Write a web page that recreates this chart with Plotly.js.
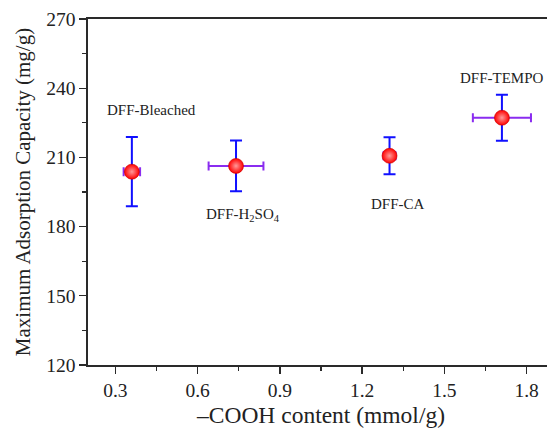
<!DOCTYPE html>
<html>
<head>
<meta charset="utf-8">
<script src="https://cdn.plot.ly/plotly-3.0.1.min.js"></script>
<style>
html, body { margin: 0; padding: 0; overflow: hidden; background: #fff; }
#chart { width: 560px; height: 428px; }
</style>
</head>
<body>
<div id="chart"></div>
<script>
// Data
const samples = ["DFF-Bleached", "DFF-H<sub>2</sub>SO<sub>4</sub>", "DFF-CA", "DFF-TEMPO"];
const cooh = [0.36, 0.74, 1.30, 1.71];          // –COOH content (mmol/g)
const coohErr = [0.03, 0.10, 0.022, 0.106];
const capacity = [203.8, 206.3, 210.7, 227.2];  // mg/g
const capacityErr = [15, 11, 8, 10];
const xTicks = [0.3, 0.6, 0.9, 1.2, 1.5, 1.8];
const yTicks = [120, 150, 180, 210, 240, 270];

// label offsets (pixels) relative to each point
const labelShift = [[20, 62], [7, -49], [8, -48], [0, 40]];

const font = "Liberation Serif";

const trace = {
  x: cooh,
  y: capacity,
  type: "scatter",
  mode: "markers",
  marker: {
    size: 15,
    color: "#ff0000",
    line: { color: "#c80000", width: 0.6 },
    gradient: { type: "radial", color: "#ff9a9a" }
  },
  error_y: { type: "data", array: capacityErr, visible: true, color: "#1010ff", thickness: 2, width: 6 },
  error_x: { type: "data", array: coohErr, visible: true, color: "#8a2cf0", thickness: 2, width: 4.5 },
  hoverinfo: "none"
};

const annotations = samples.map((s, i) => ({
  x: cooh[i], y: capacity[i], xref: "x", yref: "y",
  text: s, showarrow: false,
  xshift: labelShift[i][0], yshift: labelShift[i][1],
  font: { family: font, size: 15, color: "#222" }
}));

const axisCommon = {
  showgrid: false, zeroline: false,
  showline: true, linecolor: "#2a2a2a", linewidth: 1.6, mirror: true,
  ticks: "outside", ticklen: 7, tickwidth: 1.4, tickcolor: "#2a2a2a",
  tickfont: { family: font, size: 19.5, color: "#222" }
};

const layout = {
  width: 560, height: 428,
  margin: { l: 88, r: 6, t: 19, b: 63 },
  paper_bgcolor: "#fff", plot_bgcolor: "#fff",
  font: { family: font, color: "#222" },
  showlegend: false,
  xaxis: Object.assign({}, axisCommon, {
    range: [0.2, 1.9],
    tickvals: xTicks, ticktext: xTicks.map(v => v.toFixed(1)),
    minor: { ticks: "outside", ticklen: 4, tickwidth: 1.2, tickcolor: "#2a2a2a", dtick: 0.15, tick0: 0.15 },
    title: { text: "–COOH content (mmol/g)", font: { family: font, size: 23.5, color: "#222" }, standoff: 9 }
  }),
  yaxis: Object.assign({}, axisCommon, {
    range: [120, 270],
    tickvals: yTicks,
    minor: { ticks: "outside", ticklen: 4, tickwidth: 1.2, tickcolor: "#2a2a2a", dtick: 15, tick0: 0 },
    title: { text: "Maximum Adsorption Capacity (mg/g)", font: { family: font, size: 21, color: "#222" }, standoff: 10 }
  }),
  annotations: annotations
};

Plotly.newPlot("chart", [trace], layout, { staticPlot: true, displayModeBar: false });
</script>
</body>
</html>
